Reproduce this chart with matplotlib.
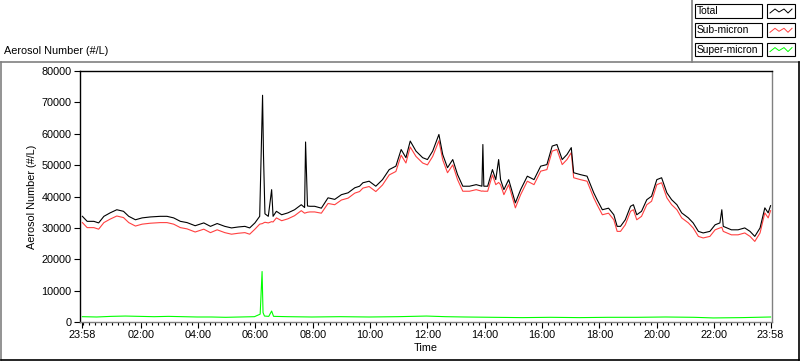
import matplotlib
matplotlib.use('Agg')
import matplotlib.pyplot as plt
from matplotlib.patches import Rectangle

plt.rcParams['font.family'] = ['Liberation Sans', 'DejaVu Sans']
plt.rcParams['font.size'] = 7.8

# time in minutes after 23:58
t_total = [0, 10, 24, 34, 45, 58, 72, 86, 97, 111, 125, 142, 163, 177, 191, 205, 219, 236,
           254, 268, 282, 298, 312, 326, 340, 350, 361, 371, 377, 379, 382, 389, 396, 399,
           406, 417, 430, 444, 458, 465, 467, 469, 471, 476, 486, 500, 514, 528, 542, 556,
           570, 580, 587, 600, 614, 628, 642, 656, 667, 677, 686, 698, 712, 722, 733, 746,
           754, 764, 775, 785, 796, 810, 824, 836, 838, 840, 848, 858, 865, 871, 875, 882,
           892, 906, 917, 931, 945, 959, 972, 983, 993, 1004, 1014, 1023, 1028, 1042, 1056,
           1070, 1077, 1088, 1101, 1112, 1119, 1126, 1136, 1147, 1153, 1160, 1170, 1181,
           1191, 1202, 1212, 1223, 1233, 1244, 1254, 1268, 1278, 1289, 1299, 1313, 1324,
           1334, 1338, 1341, 1358, 1372, 1386, 1397, 1407, 1418, 1428, 1435, 1440]
total = [33700, 32100, 32100, 31600, 33700, 34800, 35800, 35300, 33700, 32600, 33200, 33500,
         33700, 33700, 33200, 32100, 31700, 30700, 31600, 30500, 31400, 30500, 30000, 30300,
         30500, 30000, 31600, 33700, 72300, 52900, 34500, 33700, 42200, 33700, 35300, 34200,
         34800, 35800, 37400, 36500, 57400, 47300, 37000, 36900, 36900, 36300, 39600, 39100,
         40600, 41200, 42800, 43300, 44400, 44900, 43300, 45400, 48600, 49700, 55000, 52400,
         57700, 54500, 52400, 51800, 54500, 59800, 53400, 49200, 51800, 47000, 43300, 43300,
         43800, 43300, 56600, 43300, 43300, 48600, 45400, 51800, 45400, 42200, 45400, 38000,
         42200, 46500, 45400, 49700, 50200, 56100, 56600, 51800, 53400, 55600, 47600, 47000,
         46500, 41200, 39000, 35800, 36300, 34200, 30500, 30500, 32600, 36900, 37400, 34200,
         35300, 39000, 40100, 45400, 46000, 41200, 39000, 37400, 34800, 33200, 31600, 28900,
         28400, 28900, 31000, 31600, 35800, 30500, 29400, 29400, 30000, 28900, 27300, 30000,
         36400, 34800, 37100]
sub_micron = [31700, 30100, 30100, 29600, 31700, 32800, 33800, 33300, 31700, 30600, 31200,
              31500, 31700, 31700, 31200, 30100, 29700, 28700, 29600, 28500, 29400, 28500,
              28000, 28300, 28500, 28000, 29600, 31200, 31400, 31600, 31800, 31600, 32000,
              31900, 33200, 32300, 32900, 33900, 35500, 34700, 34800, 34900, 35000, 35100,
              35100, 34700, 37800, 37400, 38900, 39500, 41100, 41600, 42700, 43200, 41600,
              43700, 46900, 48000, 53200, 50700, 55800, 52800, 50700, 50100, 52800, 57800,
              51700, 47600, 50100, 45400, 41700, 41700, 42200, 41700, 41800, 41700, 41700,
              46900, 43800, 44500, 43800, 40600, 43800, 36400, 40600, 44900, 43800, 48100,
              48600, 54500, 55000, 50200, 51800, 54000, 46000, 45400, 44900, 39600, 37400,
              34200, 34700, 32600, 28900, 28900, 31000, 35300, 35800, 32600, 33700, 37400,
              38500, 43800, 44400, 39600, 37400, 35800, 33200, 31600, 30000, 27300, 26800,
              27300, 29400, 30000, 30200, 28900, 27800, 27800, 28400, 27300, 25700, 28400,
              34800, 33200, 35500]

t_super = [0, 30, 60, 90, 120, 150, 180, 210, 240, 270, 300, 330, 360, 372, 376, 378, 381,
           390, 396, 400, 430, 480, 540, 600, 660, 720, 760, 800, 860, 920, 980, 1040, 1100,
           1160, 1220, 1280, 1320, 1380, 1440]
super_micron = [1700, 1600, 1800, 1900, 1800, 1700, 1800, 1700, 1600, 1600, 1500, 1600, 1700,
                2500, 16100, 3000, 1900, 1800, 3500, 1800, 1700, 1600, 1700, 1600, 1700, 1900,
                1700, 1600, 1500, 1400, 1500, 1400, 1500, 1500, 1600, 1500, 1300, 1400, 1600]

tick_pos = [0, 122, 242, 362, 482, 602, 722, 842, 962, 1082, 1202, 1322, 1440]
tick_labels = ['23:58', '02:00', '04:00', '06:00', '08:00', '10:00', '12:00',
               '14:00', '16:00', '18:00', '20:00', '22:00', '23:58']

fig = plt.figure(figsize=(8, 3.61), dpi=100)

# frame / legend overlay in pixel coordinates
ov = fig.add_axes([0, 0, 1, 1], zorder=0)
ov.set_xlim(0, 800)
ov.set_ylim(361, 0)
ov.axis('off')
ov.plot([1, 799], [61.5, 61.5], color='#808080', lw=1.2)
ov.plot([1, 1], [61.5, 360], color='#808080', lw=1.2)
ov.plot([799, 799], [61.5, 360], color='black', lw=1.2)
ov.plot([1, 799], [360, 360], color='black', lw=1.2)
ov.plot([692, 692], [0, 61.5], color='#808080', lw=1.2)
ov.text(4, 51, 'Aerosol Number (#/L)', ha='left', va='center')

leg_names = ['Total', 'Sub-micron', 'Super-micron']
leg_colors = ['black', '#ff4040', '#00ff00']
for i, (name, col) in enumerate(zip(leg_names, leg_colors)):
    y0 = 4 + i * 19.3
    ov.add_patch(Rectangle((695, y0), 67, 13.5, fill=False, ec='black', lw=0.8))
    ov.add_patch(Rectangle((767, y0), 27.5, 13.5, fill=False, ec='black', lw=0.8))
    ov.text(697, y0 + 7, name, ha='left', va='center', fontsize=7.4)
    ov.plot([770, 775, 779, 784, 788, 792], [y0 + 9, y0 + 5, y0 + 8, y0 + 5, y0 + 9, y0 + 5],
            color=col, lw=0.7)

ax = fig.add_axes([0.1, 0.108, 0.865, 0.695], zorder=1)
ax.plot(t_super, super_micron, color='#00ff00', lw=0.8)
ax.plot(t_total, sub_micron, color='#ff4040', lw=0.8)
ax.plot(t_total, total, color='black', lw=0.8)

ax.set_xlim(-5, 1443)
ax.set_ylim(0, 80000)
ax.set_yticks(range(0, 80001, 10000))
ax.set_xticks(tick_pos)
ax.set_xticklabels(tick_labels)
ax.set_xticks(list(range(2, 1440, 12)), minor=True)
ax.tick_params(axis='both', direction='out', length=4, width=0.8, pad=2)
ax.tick_params(axis='x', which='minor', length=2.5, width=0.8)
ax.set_xlabel('Time', labelpad=2)
ax.set_ylabel('Aerosol Number (#/L)', labelpad=3)
ax.spines['left'].set_color('black')
ax.spines['top'].set_color('black')
ax.spines['right'].set_color('#808080')
ax.spines['bottom'].set_color('#808080')
for s in ax.spines.values():
    s.set_linewidth(1.0)

fig.savefig('out.png', dpi=100)
